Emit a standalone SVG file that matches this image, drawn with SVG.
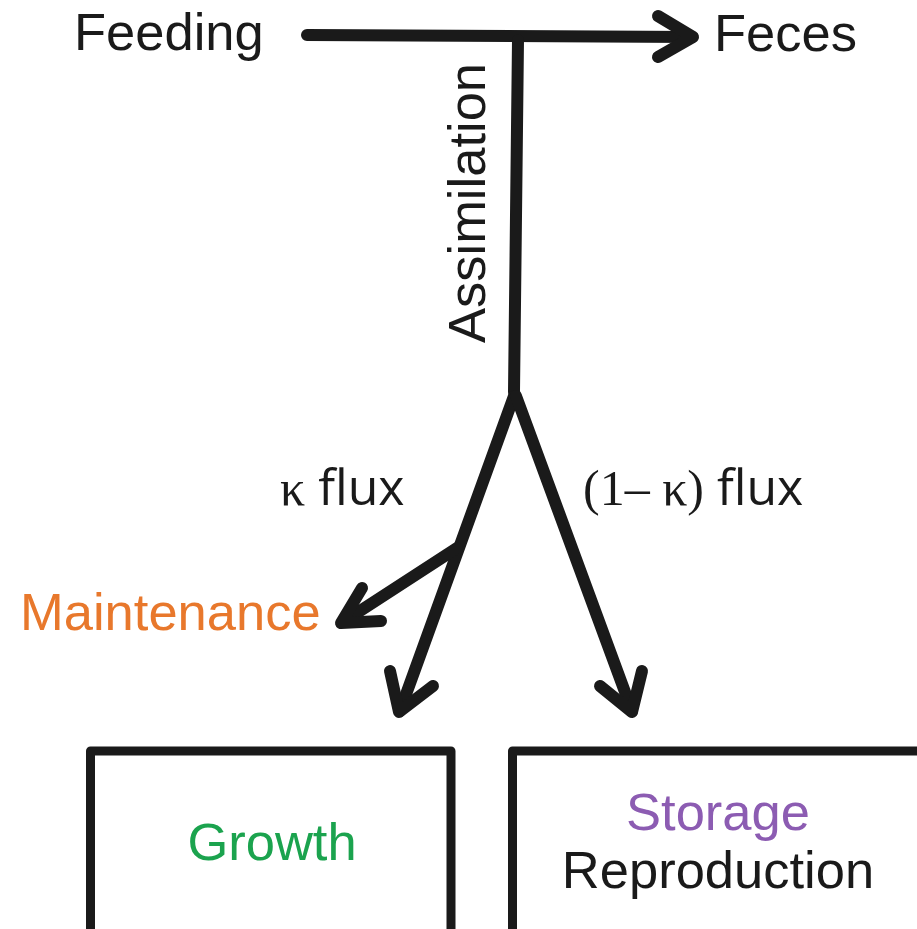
<svg xmlns="http://www.w3.org/2000/svg" width="917" height="929" viewBox="0 0 917 929">
<style>
.ln{fill:none;stroke:#1a1a1a;stroke-width:12;stroke-linecap:round;stroke-linejoin:round}
.bx{fill:#fff;stroke:#1a1a1a;stroke-width:9;stroke-linejoin:round}
.t{font-family:"Liberation Sans",Arial,sans-serif;font-size:52.5px;fill:#1a1a1a}
.s{font-family:"Liberation Serif","Times New Roman",serif;font-size:50px;fill:#1a1a1a}
.f{font-family:"Open Sans","Liberation Sans",sans-serif;font-size:50px;fill:#1a1a1a}
</style>
<rect width="917" height="929" fill="#fff"/>
<g id="connectors">
<path class="ln" d="M307,35 L692,37"/>
<polyline class="ln" points="658,16 693,37 658,57"/>
<path class="ln" d="M518,40 L514,392"/>
<path class="ln" d="M514,396 L400,711"/>
<polyline class="ln" points="390,671 399,712 433,686"/>
<path class="ln" d="M516,396 L632,711"/>
<polyline class="ln" points="600,686 632,712 642,671"/>
<path class="ln" d="M457,548 L343,622"/>
<polyline class="ln" points="362,588 341,623 381,621"/>
</g>
<g id="feeding"><text class="t" x="74" y="50">Feeding</text></g>
<g id="feces"><text class="t" x="714" y="51">Feces</text></g>
<g id="assimilation"><text class="t" transform="translate(485,203) rotate(-90)" text-anchor="middle">Assimilation</text></g>
<g id="kflux"><text x="280" y="505"><tspan class="s">κ</tspan><tspan class="f"> flux</tspan></text></g>
<g id="omkflux"><text x="583" y="505"><tspan class="s">(1– κ)</tspan><tspan class="f"> flux</tspan></text></g>
<g id="maintenance"><text class="t" x="20" y="630" style="fill:#E8782C">Maintenance</text></g>
<g id="growth">
<rect class="bx" x="90.5" y="751" width="360.5" height="190"/>
<text class="t" x="272" y="860" text-anchor="middle" style="fill:#1BA34E">Growth</text>
</g>
<g id="storage">
<rect class="bx" x="512.5" y="751" width="420" height="190"/>
<text class="t" x="718" y="830" text-anchor="middle" style="fill:#8C5CB2">Storage</text>
<text class="t" x="718" y="888" text-anchor="middle">Reproduction</text>
</g>
</svg>
